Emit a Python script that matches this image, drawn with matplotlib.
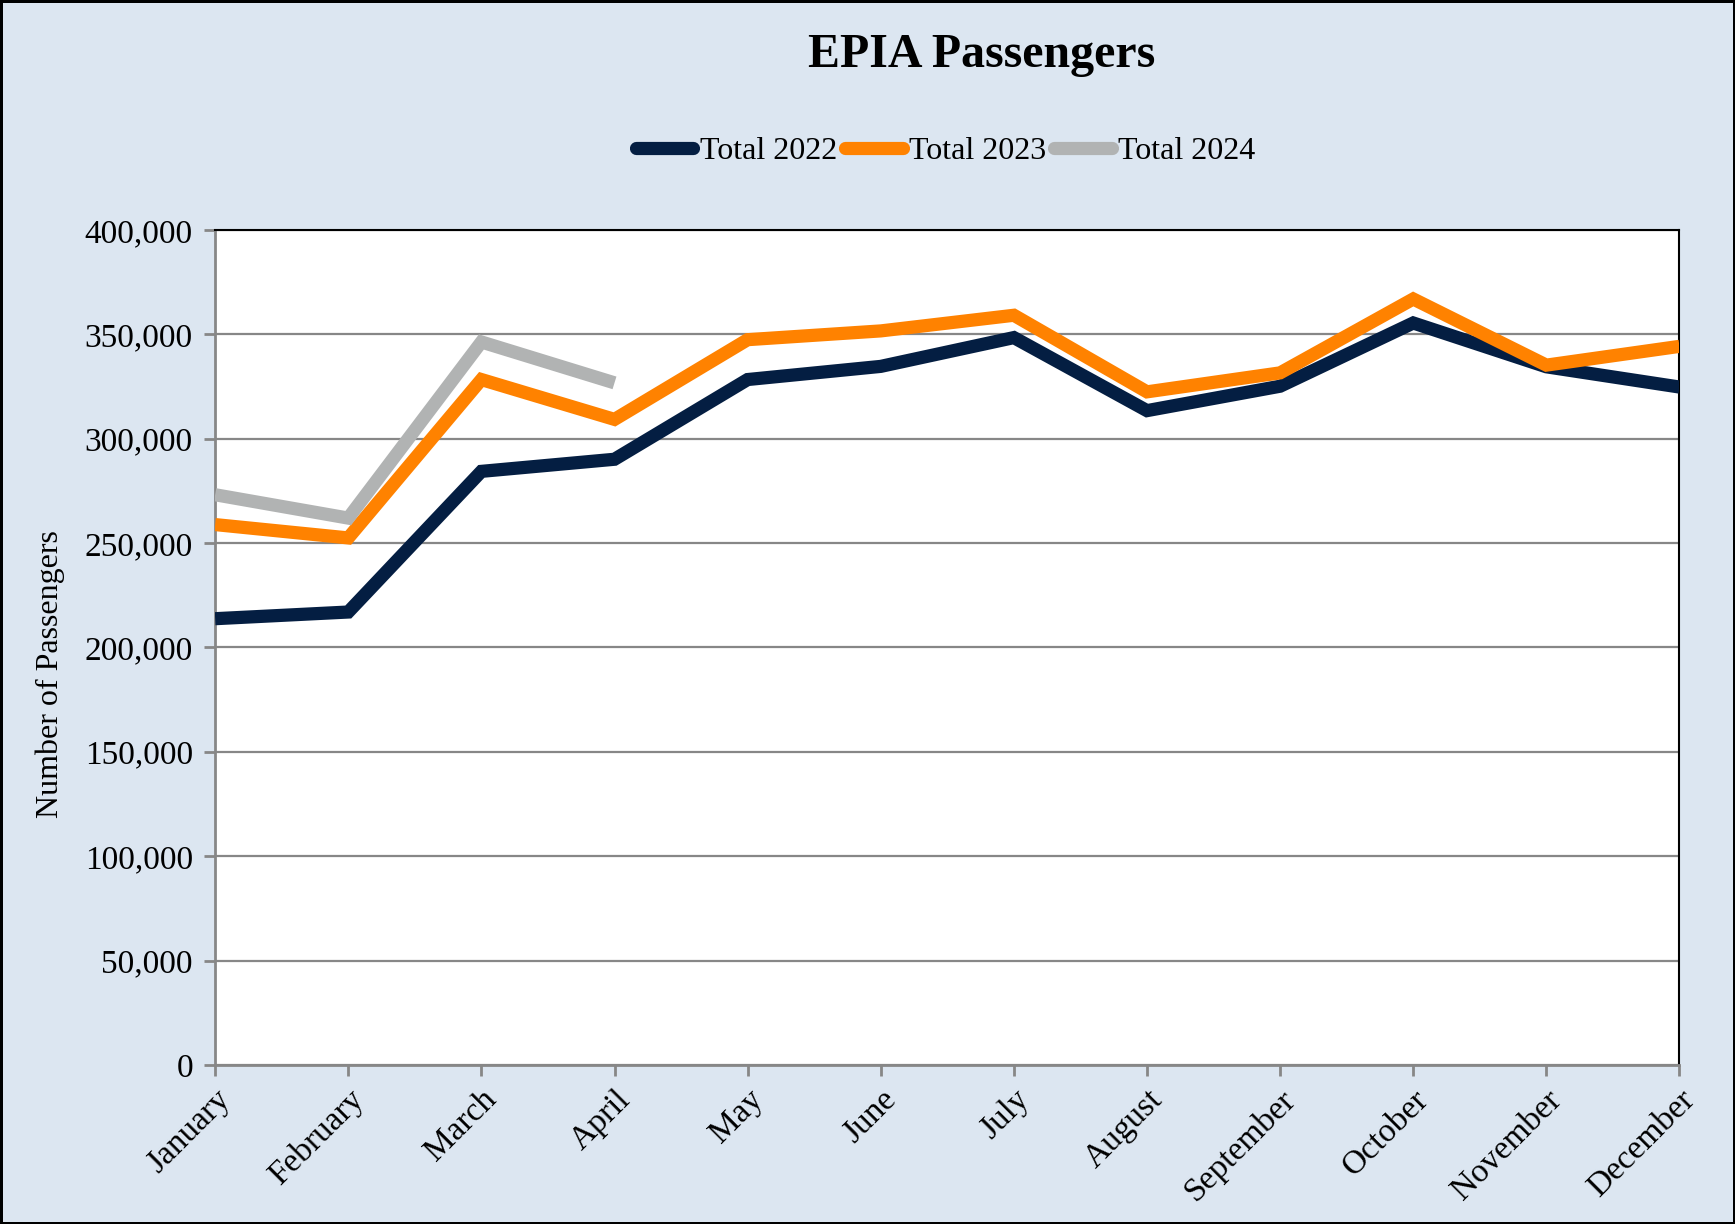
import matplotlib
matplotlib.use("Agg")
import matplotlib.pyplot as plt
from matplotlib.lines import Line2D
from matplotlib.ticker import FuncFormatter

# Data
months = ["January", "February", "March", "April", "May", "June", "July",
          "August", "September", "October", "November", "December"]
total_2022 = [213800, 217000, 284400, 290200, 328400, 334700, 348500,
              313500, 325200, 355500, 334500, 324800]
total_2023 = [258900, 252500, 328400, 309300, 347500, 351700, 359200,
              322500, 331600, 367000, 335300, 344300]
total_2024 = [273200, 262000, 346400, 326800]

series_names = ["Total 2022", "Total 2023", "Total 2024"]
series_colors = ["#041E42", "#FF8200", "#B1B3B3"]

plt.rcParams['font.family'] = ['Liberation Serif', 'DejaVu Serif']

fig = plt.figure(figsize=(17.35, 12.24), dpi=100)
fig.patch.set_facecolor("#DCE6F1")
fig.patch.set_edgecolor("black")
fig.patch.set_linewidth(2.5)

ax = fig.add_axes([0.124, 0.130, 0.844, 0.682])
ax.set_facecolor("white")

x = list(range(len(months)))
for vals, name, col in zip([total_2022, total_2023, total_2024], series_names, series_colors):
    ax.plot(x[:len(vals)], vals, color=col, lw=9.5, solid_joinstyle="miter",
            solid_capstyle="butt", label=name, zorder=3)

ax.set_xlim(0, 11)
ax.set_ylim(0, 400000)
ax.set_yticks(range(0, 400001, 50000))
ax.yaxis.set_major_formatter(FuncFormatter(lambda v, p: f"{int(v):,}"))
ax.set_xticks(x)
ax.set_xticklabels(months, rotation=45, ha="right", rotation_mode="anchor")
ax.tick_params(axis="both", labelsize=24, colors="#878787", labelcolor="black",
               direction="out", length=8, width=2)
ax.tick_params(axis="x", pad=6)
ax.tick_params(axis="y", pad=8)
ax.grid(axis="y", color="#878787", lw=1.6, zorder=1)
ax.set_axisbelow(True)

for s in ["left", "bottom"]:
    ax.spines[s].set_color("#878787")
    ax.spines[s].set_linewidth(2)
for s in ["top", "right"]:
    ax.spines[s].set_color("black")
    ax.spines[s].set_linewidth(1.5)

fig.text(0.029, 0.449, "Number of Passengers", rotation=90, fontsize=23,
         ha="center", va="center")

fig.text(0.566, 0.955, "EPIA Passengers", fontsize=34.5, fontweight="bold",
         ha="center", va="center")

handles = [Line2D([0], [0], color=c, lw=9.5, solid_capstyle="round") for c in series_colors]
fig.legend(handles, series_names, loc="center", bbox_to_anchor=(0.545, 0.876),
           ncol=3, frameon=False, fontsize=23, handlelength=1.8,
           handletextpad=0.2, columnspacing=0.25)

fig.savefig("out.png", dpi=100, facecolor=fig.get_facecolor(),
            edgecolor=fig.get_edgecolor())
